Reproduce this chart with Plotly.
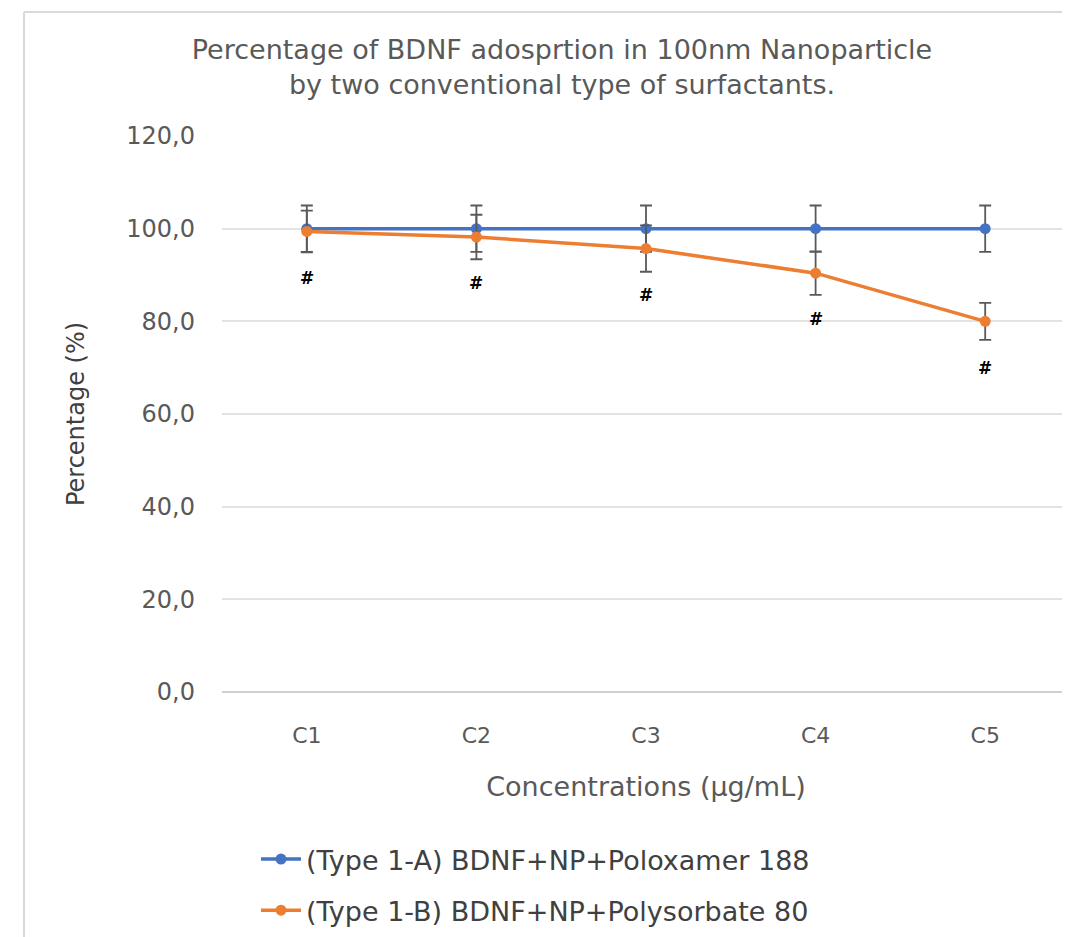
import plotly.graph_objects as go

categories = ["C1", "C2", "C3", "C4", "C5"]
type_a_values = [100.0, 100.0, 100.0, 100.0, 100.0]
type_a_err = [5.0, 5.0, 5.0, 5.0, 5.0]
type_b_values = [99.4, 98.2, 95.7, 90.4, 80.0]
type_b_err = [4.5, 4.8, 5.0, 4.7, 4.0]
sig_marks = ["#", "#", "#", "#", "#"]
y_ticks = [0, 20, 40, 60, 80, 100, 120]
y_tick_labels = ["0,0", "20,0", "40,0", "60,0", "80,0", "100,0", "120,0"]

FONT = "DejaVu Sans"
TXT = "#595959"
BLUE = "#4472C4"
ORANGE = "#ED7D31"
ERR = "#595959"

# page has 8px body margin; figure fills the rest of the 1070x937 window
W, H = 1062, 929
L, R, T, B = 214, 0, 128, 245
PW = W - L - R
PH = H - T - B

fig = go.Figure()
fig.add_trace(go.Scatter(
    x=categories, y=type_a_values, mode="lines+markers",
    name="(Type 1-A) BDNF+NP+Poloxamer 188", legendgroup="a",
    line=dict(color=BLUE, width=3.5), marker=dict(color=BLUE, size=11),
    error_y=dict(type="data", array=type_a_err, color=ERR, thickness=1.8, width=6),
))
fig.add_trace(go.Scatter(
    x=categories, y=type_b_values, mode="lines+markers",
    name="(Type 1-B) BDNF+NP+Polysorbate 80", legendgroup="b",
    line=dict(color=ORANGE, width=3.5), marker=dict(color=ORANGE, size=11),
    error_y=dict(type="data", array=type_b_err, color=ERR, thickness=1.8, width=6),
))

hash_offset = 10.0
for c, v, m in zip(categories, type_b_values, sig_marks):
    fig.add_annotation(x=c, y=v - hash_offset, text=f"<b>{m}</b>", showarrow=False,
                       font=dict(family=FONT, size=17, color="black"), yanchor="middle")

# light chart border (Excel chart area outline)
bx = (16 - L) / PW
by = (H - B - 4) / PH
fig.add_shape(type="line", xref="paper", yref="paper", x0=bx, x1=bx,
              y0=-B / PH, y1=by, line=dict(color="#d9d9d9", width=2))
fig.add_shape(type="line", xref="paper", yref="paper", x0=bx, x1=1.0,
              y0=by, y1=by, line=dict(color="#d9d9d9", width=2))

fig.update_layout(
    width=W, height=H,
    margin=dict(l=L, r=R, t=T, b=B, pad=0),
    paper_bgcolor="white", plot_bgcolor="white",
    font=dict(family=FONT, color=TXT),
    title=dict(
        text="Percentage of BDNF adosprtion in 100nm Nanoparticle<br>by two conventional type of surfactants.",
        x=554 / W, xanchor="center", y=1 - 51 / H, yanchor="middle", yref="container",
        font=dict(family=FONT, size=27, color=TXT),
    ),
    xaxis=dict(
        type="category", range=[-0.5, 4.5], showgrid=False, showline=False, zeroline=False,
        ticks="", tickfont=dict(family=FONT, size=22, color=TXT), ticklabelstandoff=28,
        title=dict(text="Concentrations (µg/mL)", font=dict(family=FONT, size=27, color=TXT), standoff=30),
    ),
    yaxis=dict(
        range=[0, 120], tickvals=y_ticks, ticktext=y_tick_labels,
        showgrid=True, gridcolor="#e3e3e3", gridwidth=1.5,
        zeroline=True, zerolinecolor="#d0d0d0", zerolinewidth=1.5,
        showline=False, ticks="", ticklabelstandoff=26,
        tickfont=dict(family=FONT, size=24, color=TXT),
        title=dict(text="Percentage (%)", font=dict(family=FONT, size=24, color="#404040"), standoff=34),
    ),
    showlegend=True,
    legend=dict(
        orientation="v", x=(248 - L) / PW, xanchor="left", y=(H - B - 827) / PH, yanchor="top",
        font=dict(family=FONT, size=27, color="#404040"), traceorder="grouped", tracegroupgap=13,
        itemwidth=40, bgcolor="rgba(0,0,0,0)",
    ),
)

fig.write_html("out.html")
